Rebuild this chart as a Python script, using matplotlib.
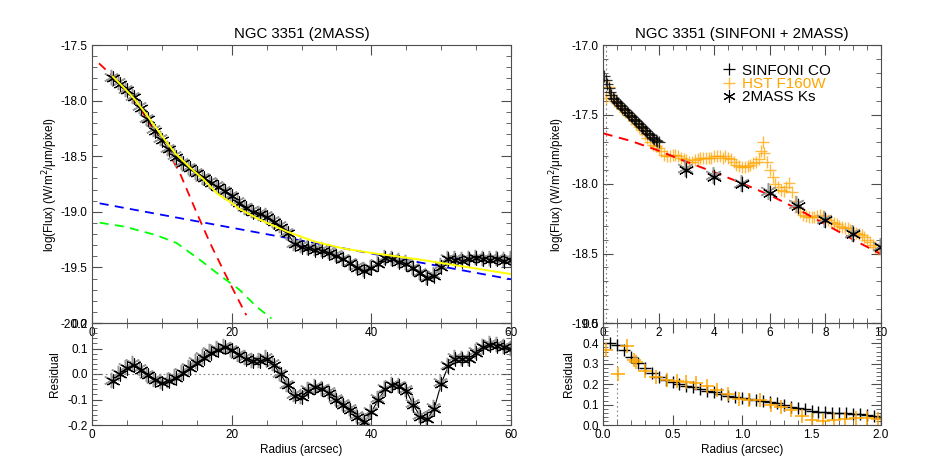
import numpy as np
import matplotlib.pyplot as plt
from matplotlib.ticker import MultipleLocator, FormatStrFormatter
from matplotlib.lines import Line2D
import matplotlib.transforms as mtransforms

plt.rcParams['font.family'] = ['Liberation Sans', 'DejaVu Sans']
plt.rcParams['axes.unicode_minus'] = False

# ---- left: 2MASS profile (r in arcsec, log flux) ----
r_2m = list(range(3, 61))
flux_2m = [-17.80, -17.85, -17.905, -17.97, -18.064, -18.168, -18.27, -18.354, -18.438, -18.504,
           -18.564, -18.609, -18.654, -18.699, -18.738, -18.774, -18.815, -18.86, -18.918, -18.969,
           -18.999, -19.023, -19.044, -19.089, -19.134, -19.193, -19.29, -19.314, -19.328, -19.343,
           -19.352, -19.368, -19.397, -19.427, -19.463, -19.503, -19.532, -19.508, -19.472, -19.418,
           -19.427, -19.449, -19.469, -19.508, -19.553, -19.598, -19.577, -19.494, -19.427, -19.433,
           -19.439, -19.427, -19.418, -19.427, -19.433, -19.427, -19.439, -19.433]
res_2m = [-0.029, 0.0, 0.023, 0.037, 0.016, -0.004, -0.024, -0.034, -0.029, -0.015,
          0.003, 0.023, 0.044, 0.064, 0.084, 0.095, 0.105, 0.094, 0.073, 0.06,
          0.05, 0.05, 0.06, 0.037, 0.0, -0.045, -0.086, -0.092, -0.065, -0.052,
          -0.059, -0.073, -0.10, -0.12, -0.14, -0.167, -0.188, -0.15, -0.10, -0.059,
          -0.045, -0.049, -0.065, -0.12, -0.167, -0.177, -0.136, -0.038, 0.03, 0.06,
          0.057, 0.057, 0.084, 0.105, 0.114, 0.111, 0.105, 0.098]

# model components
r_bulge = [1, 3.3, 5, 6.9, 8.8, 10.2, 12.6, 15, 16.9, 19, 20.7, 22.1]
bulge = [-17.665, -17.80, -17.935, -18.07, -18.264, -18.384, -18.654, -19.01, -19.28, -19.55, -19.76, -19.93]
r_bar = [1.1, 4.7, 9.2, 12.1, 15.4, 18.5, 21.1, 23.5, 25.7]
bar = [-19.098, -19.134, -19.21, -19.28, -19.43, -19.58, -19.70, -19.85, -19.96]
r_disc = [1.1, 60]
disc = [-18.924, -19.607]
r_total = [3, 4.5, 6, 7.5, 9, 10.5, 12, 14, 16, 18, 20, 21, 24, 28, 32, 36, 40, 47, 54, 60]
total = [-17.785, -17.88, -17.98, -18.10, -18.23, -18.36, -18.48, -18.60, -18.71, -18.84, -18.92,
         -18.97, -19.07, -19.18, -19.27, -19.33, -19.37, -19.43, -19.50, -19.56]

# ---- right: SINFONI + HST + 2MASS ----
r_sin = [0.05, 0.10, 0.15, 0.20, 0.25, 0.30, 0.35, 0.40, 0.45, 0.50, 0.55, 0.60, 0.65, 0.70,
         0.75, 0.80, 0.85, 0.90, 0.95, 1.00, 1.05, 1.10, 1.15, 1.20, 1.25, 1.30, 1.35, 1.40,
         1.45, 1.50, 1.55, 1.60, 1.65, 1.70, 1.75, 1.80, 1.85, 1.90, 1.95, 2.00]
flux_sin = [-17.22, -17.25, -17.28, -17.31, -17.34, -17.36, -17.38, -17.39, -17.40, -17.41,
            -17.42, -17.43, -17.44, -17.45, -17.46, -17.47, -17.48, -17.49, -17.50, -17.51,
            -17.52, -17.53, -17.54, -17.55, -17.56, -17.57, -17.58, -17.59, -17.60, -17.61,
            -17.62, -17.63, -17.64, -17.65, -17.66, -17.67, -17.675, -17.68, -17.69, -17.70]
res_sin = [0.403, 0.392, 0.368, 0.335, 0.306, 0.278, 0.253, 0.234, 0.221, 0.209,
           0.200, 0.193, 0.188, 0.178, 0.168, 0.160, 0.152, 0.144, 0.137, 0.131,
           0.126, 0.123, 0.118, 0.113, 0.106, 0.098, 0.090, 0.083, 0.077, 0.070,
           0.065, 0.062, 0.060, 0.059, 0.057, 0.055, 0.052, 0.049, 0.044, 0.036]

r_hst = [0.0, 0.1, 0.2, 0.3, 0.4, 0.5, 0.6, 0.7, 0.8, 0.9, 1.0, 1.1, 1.2, 1.3, 1.4, 1.5, 1.6,
         1.7, 1.8, 1.9, 2.0, 2.1, 2.2, 2.3, 2.4, 2.5, 2.6, 2.7, 2.8, 2.9, 3.0, 3.1, 3.2, 3.3,
         3.4, 3.5, 3.6, 3.7, 3.8, 3.9, 4.0, 4.1, 4.2, 4.3, 4.4, 4.5, 4.6, 4.7, 4.8, 4.9, 5.0,
         5.1, 5.2, 5.3, 5.4, 5.5, 5.6, 5.7, 5.75, 5.8, 5.9, 6.0, 6.1, 6.2, 6.3, 6.4, 6.5, 6.6,
         6.7, 6.8, 6.9, 7.0, 7.1, 7.2, 7.3, 7.4, 7.5, 7.6, 7.7, 7.8, 7.9, 8.0, 8.1, 8.2, 8.3,
         8.4, 8.5, 8.6, 8.7, 8.8, 8.9, 9.0, 9.1, 9.2, 9.3, 9.4, 9.5, 9.6, 9.7, 9.8, 9.9, 10.0]
flux_hst = [-17.25, -17.38, -17.30, -17.36, -17.40, -17.42, -17.44, -17.46, -17.48, -17.50,
            -17.52, -17.54, -17.57, -17.59, -17.61, -17.64, -17.67, -17.70, -17.72, -17.73,
            -17.74, -17.76, -17.79, -17.80, -17.80, -17.79, -17.79, -17.80, -17.81, -17.82,
            -17.83, -17.84, -17.84, -17.83, -17.82, -17.81, -17.81, -17.81, -17.81, -17.81,
            -17.80, -17.80, -17.80, -17.81, -17.80, -17.81, -17.82, -17.84, -17.86, -17.87,
            -17.88, -17.88, -17.87, -17.86, -17.85, -17.84, -17.82, -17.76, -17.70, -17.78,
            -17.84, -17.90, -17.95, -18.00, -18.02, -18.04, -18.05, -18.02, -17.99, -18.06,
            -18.12, -18.17, -18.20, -18.22, -18.23, -18.24, -18.24, -18.24, -18.23, -18.22,
            -18.23, -18.25, -18.26, -18.27, -18.28, -18.29, -18.30, -18.31, -18.32, -18.32,
            -18.33, -18.34, -18.35, -18.36, -18.37, -18.38, -18.40, -18.42, -18.44, -18.45,
            -18.47, -18.49]
r_hst_res = [0.02, 0.11, 0.17, 0.22, 0.24, 0.30, 0.38, 0.46, 0.53, 0.60, 0.67, 0.75, 0.82, 0.90,
             0.98, 1.05, 1.13, 1.21, 1.28, 1.35, 1.43, 1.50, 1.58, 1.66, 1.74, 1.82, 1.90, 1.98]
res_hst = [0.37, 0.25, 0.385, 0.32, 0.31, 0.265, 0.235, 0.222, 0.215, 0.21, 0.206, 0.19, 0.172,
           0.152, 0.128, 0.121, 0.121, 0.098, 0.09, 0.074, 0.045, 0.024, 0.022, 0.025, 0.028,
           0.032, 0.035, 0.028]

r_ks = [3, 4, 5, 6, 7, 8, 9, 10]
flux_ks = [-17.899, -17.947, -18.0, -18.062, -18.158, -18.259, -18.362, -18.456]

r_fit = [0, 1, 2, 3, 4, 5, 6, 7, 8, 9, 10]
fit = [-17.635, -17.69, -17.76, -17.84, -17.915, -17.995, -18.08, -18.18, -18.29, -18.40, -18.505]

ORANGE = '#FFA500'
W, H = 926, 463
fig = plt.figure(figsize=(W / 100, H / 100), dpi=100)
ax1 = fig.add_axes([92 / W, 1 - 323 / H, 419 / W, 278 / H])
ax2 = fig.add_axes([92 / W, 1 - 425 / H, 419 / W, 102 / H])
ax3 = fig.add_axes([603 / W, 1 - 323 / H, 278 / W, 278 / H])
ax4 = fig.add_axes([603 / W, 1 - 425 / H, 278 / W, 102 / H])
for ax in (ax2, ax4):
    ax.patch.set_visible(False)


def style(ax, xmaj, xmin, ymaj, ymin, xfmt, yfmt):
    for s in ax.spines.values():
        s.set_color('0.3')
    ax.xaxis.set_major_locator(MultipleLocator(xmaj))
    ax.xaxis.set_minor_locator(MultipleLocator(xmin))
    ax.yaxis.set_major_locator(MultipleLocator(ymaj))
    ax.yaxis.set_minor_locator(MultipleLocator(ymin))
    ax.xaxis.set_major_formatter(FormatStrFormatter(xfmt))
    ax.yaxis.set_major_formatter(FormatStrFormatter(yfmt))
    ax.tick_params(which='both', direction='in', top=True, right=True,
                   color='0.3', labelsize=8.5, pad=3)
    ax.tick_params(which='major', length=7)
    ax.tick_params(which='minor', length=3.5)


star = (6, 2, 0)


def stars(ax, x, y, ms=10):
    off = mtransforms.offset_copy(ax.transData, fig=fig, x=-1.5, y=1.5, units='dots')
    ax.plot(x, y, ls='none', marker=star, ms=ms + 1, mew=1.1, color='0.6', transform=off)
    ax.plot(x, y, ls='none', marker=star, ms=ms, mew=0.8, color='k')
    ax.plot(x, y, ls='none', marker='o', ms=2, color='k')


# left top
ax1.plot(r_bulge, bulge, color='red', lw=1.3, dashes=(5, 3.5))
ax1.plot(r_bar, bar, color='#00FF00', lw=1.3, dashes=(5, 3.5))
ax1.plot(r_disc, disc, color='blue', lw=1.3, dashes=(5, 3.5))
ax1.plot(r_2m, flux_2m, color='k', lw=0.8)
stars(ax1, r_2m, flux_2m)
ax1.plot(r_total, total, color='#FFFF00', lw=1.4)
ax1.set_xlim(0, 60)
ax1.set_ylim(-20, -17.5)
style(ax1, 20, 5, 0.5, 0.1, '%d', '%.1f')
ax1.set_title('NGC 3351 (2MASS)', fontsize=10.8, pad=5)
ax1.set_ylabel('log(Flux) (W/m$^2$/\u03bcm/pixel)', fontsize=8.5)
ax1.yaxis.set_label_coords(-0.076, 0.5)

# left residual
ax2.axhline(0, color='0.5', lw=0.8, ls=(0, (1.5, 2.5)))
ax2.plot(r_2m, res_2m, color='k', lw=0.8)
stars(ax2, r_2m, res_2m)
ax2.set_xlim(0, 60)
ax2.set_ylim(-0.2, 0.2)
style(ax2, 20, 5, 0.1, 0.02, '%d', '%.1f')
ax2.set_ylabel('Residual', fontsize=8.5)
ax2.yaxis.set_label_coords(-0.074, 0.5)
ax2.set_xlabel('Radius (arcsec)', fontsize=8.5, labelpad=2)

# right top
ax3.axvline(0.1, color='0.5', lw=0.8, ls=(0, (1.5, 2.5)))
ax3.plot(r_hst, flux_hst, ls='none', marker='+', ms=9, mew=1.0, color=ORANGE, alpha=0.75)
ax3.plot(r_sin, flux_sin, ls='none', marker='+', ms=8, mew=0.9, color='k', alpha=0.8)
ax3.plot(r_fit, fit, color='red', lw=1.4, dashes=(5, 3.5))
stars(ax3, r_ks, flux_ks, ms=11)
ax3.set_xlim(0, 10)
ax3.set_ylim(-19, -17)
style(ax3, 2, 0.5, 0.5, 0.1, '%d', '%.1f')
ax3.set_title('NGC 3351 (SINFONI + 2MASS)', fontsize=10.8, pad=5)
ax3.set_ylabel('log(Flux) (W/m$^2$/\u03bcm/pixel)', fontsize=8.5)
ax3.yaxis.set_label_coords(-0.13, 0.5)
handles = [Line2D([], [], ls='none', marker='+', ms=8, mew=0.9, color='k'),
           Line2D([], [], ls='none', marker='+', ms=9, mew=1.0, color=ORANGE, alpha=0.75),
           Line2D([], [], ls='none', marker=star, ms=9, mew=0.8, color='k')]
ax3.legend(handles, ['SINFONI CO', 'HST F160W', '2MASS Ks'], loc='upper left',
           bbox_to_anchor=(0.40, 0.96), frameon=False, fontsize=11, numpoints=1,
           handlelength=0.9, handletextpad=0.4, labelspacing=-0.05, borderpad=0,
           labelcolor=['k', ORANGE, 'k'])

# right residual
ax4.axvline(0.1, color='0.5', lw=0.8, ls=(0, (1.5, 2.5)))
ax4.plot(r_sin, res_sin, ls='none', marker='+', ms=9, mew=1.0, color='k')
ax4.plot(r_hst_res, res_hst, ls='none', marker='+', ms=10, mew=1.1, color=ORANGE)
ax4.set_xlim(0, 2)
ax4.set_ylim(0, 0.5)
style(ax4, 0.5, 0.1, 0.1, 0.02, '%.1f', '%.1f')
ax4.set_ylabel('Residual', fontsize=8.5)
ax4.yaxis.set_label_coords(-0.1, 0.5)
ax4.set_xlabel('Radius (arcsec)', fontsize=8.5, labelpad=2)

fig.savefig('out.png', dpi=100)
